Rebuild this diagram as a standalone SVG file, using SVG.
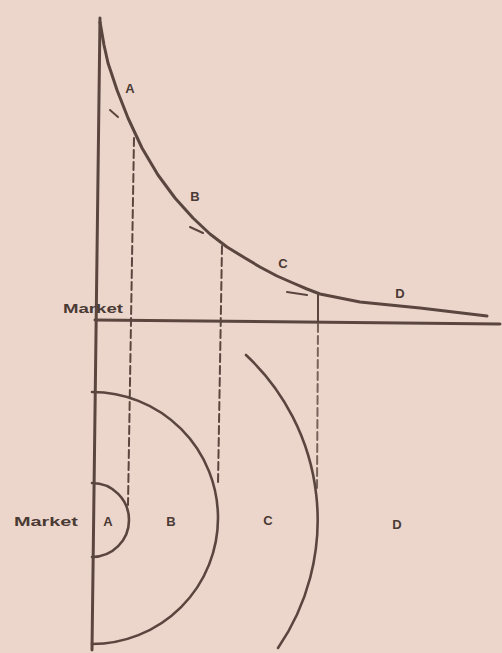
<svg xmlns="http://www.w3.org/2000/svg" width="502" height="653" viewBox="0 0 502 653">
<style>
.ln{fill:none;stroke:#5a463f;stroke-linecap:round;stroke-linejoin:round}
.ax{stroke-width:3}
.cv{stroke-width:3}
.ring{stroke-width:2.6}
.dash{stroke-width:2;stroke-dasharray:8 4}
.lbl{font-family:"Liberation Sans",Arial,sans-serif;font-weight:bold;font-size:13px;fill:#4a3a34;text-anchor:middle;dominant-baseline:central}
</style>
<rect width="502" height="653" fill="#ecd6cc"/>
<g id="connectors">
<line class="ln dash" x1="134" y1="138" x2="128" y2="505"/>
<line class="ln dash" x1="222" y1="246" x2="218" y2="484"/>
<line class="ln" stroke-width="2" x1="318" y1="295" x2="318" y2="322"/>
<line class="ln dash" x1="318" y1="324" x2="317" y2="488" opacity="0.8"/>
</g>
<g id="axes">
<line class="ln ax" x1="100" y1="18" x2="92" y2="650"/>
<line class="ln ax" x1="95" y1="320" x2="500" y2="324"/>
</g>
<g id="curve">
<polyline class="ln cv" points="100,22 104,45 108,63 117,90 128,118 142,148 158,175 175,198 193,218 210,234 227,247 245,258 260,267 277,276 293,283 307,289 320,294 340,298 360,302 420,308 487,316"/>
<line class="ln" stroke-width="2" x1="110" y1="110" x2="118" y2="117"/>
<line class="ln" stroke-width="2" x1="190" y1="227" x2="203" y2="233"/>
<line class="ln" stroke-width="2" x1="287" y1="292" x2="307" y2="295"/>
</g>
<g id="zoneA">
<path class="ln ring" d="M92,483 A37,37 0 0 1 92,557"/>
<text class="lbl" x="108" y="521">A</text>
</g>
<g id="zoneB">
<path class="ln ring" d="M92,392 A126,126 0 0 1 92,644"/>
<text class="lbl" x="171" y="521">B</text>
</g>
<g id="zoneC">
<path class="ln ring" d="M246,355 A226,226 0 0 1 278,648"/>
<text class="lbl" x="268" y="520">C</text>
</g>
<g id="zoneD">
<text class="lbl" x="397" y="524">D</text>
</g>
<g id="labels">
<text class="lbl" x="93" y="308" textLength="60" lengthAdjust="spacingAndGlyphs">Market</text>
<text class="lbl" x="46" y="521" textLength="64" lengthAdjust="spacingAndGlyphs">Market</text>
<text class="lbl" x="130" y="88">A</text>
<text class="lbl" x="195" y="196">B</text>
<text class="lbl" x="283" y="263">C</text>
<text class="lbl" x="400" y="293">D</text>
</g>
</svg>
